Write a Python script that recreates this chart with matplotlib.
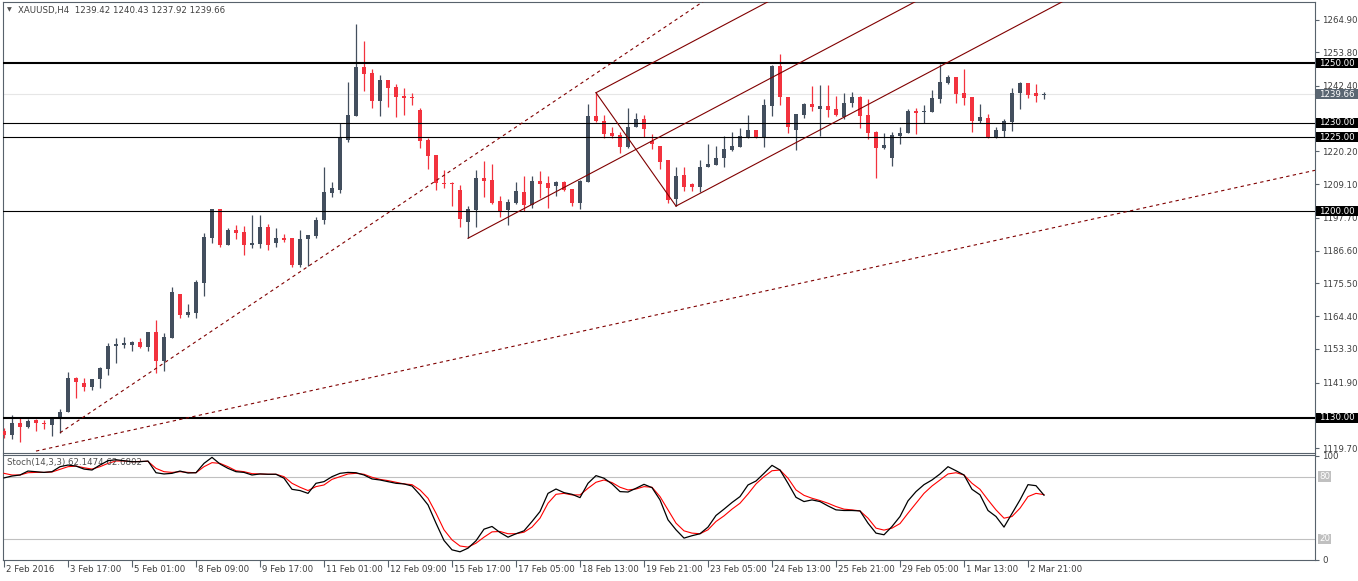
import matplotlib.pyplot as plt
from matplotlib.patches import Rectangle
from matplotlib.transforms import IdentityTransform

# XAUUSD H4 candles (open, high, low, close), one per bar
opens = [1125.6, 1124.2, 1128.3, 1127.0, 1129.2, 1128.3, 1127.5, 1129.7, 1132.0, 1143.3,
         1141.6, 1140.5, 1143.0, 1146.6, 1154.4, 1154.7, 1154.6, 1155.6, 1154.1, 1159.0,
         1149.3, 1157.1, 1171.9, 1164.9, 1165.6, 1175.7, 1191.0, 1200.7, 1188.5, 1193.6,
         1193.0, 1188.5, 1188.9, 1194.7, 1189.3, 1191.0, 1191.0, 1181.6, 1190.4, 1191.6,
         1197.0, 1206.2, 1207.1, 1224.1, 1232.2, 1248.7, 1246.7, 1237.4, 1244.4, 1241.9,
         1239.0, 1238.6, 1234.2, 1224.1, 1219.0, 1209.5, 1209.5, 1207.1, 1196.4, 1200.4,
         1211.3, 1210.5, 1203.4, 1200.4, 1202.6, 1206.6, 1202.1, 1210.2, 1209.5, 1208.5,
         1209.7, 1207.5, 1202.6, 1210.0, 1232.2, 1230.5, 1226.6, 1225.8, 1221.8, 1228.4,
         1231.1, 1223.7, 1222.0, 1217.3, 1204.2, 1212.1, 1209.1, 1208.3, 1214.8, 1215.6,
         1218.1, 1220.7, 1221.8, 1224.7, 1227.5, 1224.7, 1235.6, 1249.2, 1238.8, 1227.3,
         1232.6, 1236.3, 1234.7, 1235.6, 1234.5, 1232.0, 1236.5, 1238.8, 1232.6, 1226.9,
         1221.5, 1217.9, 1225.5, 1226.4, 1233.9, 1233.7, 1233.7, 1238.1, 1243.5, 1245.5,
         1239.9, 1238.7, 1230.5, 1231.4, 1225.2, 1227.2, 1230.3, 1239.9, 1243.3, 1240.0,
         1239.42]
highs = [1126.4, 1130.9, 1129.8, 1129.5, 1129.4, 1129.2, 1130.4, 1132.8, 1145.5, 1143.9,
         1143.3, 1143.0, 1147.1, 1155.4, 1156.9, 1157.3, 1156.0, 1156.9, 1159.0, 1163.0,
         1158.7, 1174.3, 1171.9, 1168.5, 1176.5, 1192.7, 1200.7, 1200.7, 1194.2, 1195.3,
         1194.9, 1198.7, 1198.7, 1195.6, 1194.2, 1192.2, 1191.0, 1193.6, 1191.9, 1197.9,
         1214.8, 1209.9, 1229.7, 1243.8, 1263.4, 1257.6, 1248.0, 1246.1, 1244.4, 1243.0,
         1241.6, 1240.1, 1234.8, 1224.6, 1219.0, 1213.9, 1209.7, 1208.8, 1201.7, 1213.9,
         1217.0, 1215.9, 1205.1, 1204.1, 1209.7, 1212.0, 1212.0, 1213.6, 1212.0, 1210.3,
         1210.2, 1207.5, 1210.5, 1236.3, 1240.1, 1232.5, 1228.4, 1226.9, 1234.8, 1233.3,
         1232.5, 1226.0, 1222.0, 1217.3, 1214.8, 1214.8, 1209.6, 1217.3, 1222.7, 1222.1,
         1225.4, 1226.9, 1228.0, 1232.5, 1227.5, 1237.9, 1249.5, 1253.2, 1238.8, 1232.9,
         1236.5, 1242.4, 1242.7, 1242.7, 1239.0, 1240.1, 1240.5, 1239.0, 1237.9, 1227.1,
         1226.3, 1226.9, 1228.6, 1234.5, 1234.8, 1236.0, 1241.0, 1249.8, 1246.1, 1245.5,
         1248.0, 1238.7, 1236.3, 1232.9, 1228.4, 1231.2, 1241.8, 1243.8, 1243.3, 1243.0,
         1240.43]
lows = [1123.2, 1122.9, 1121.9, 1126.6, 1125.6, 1126.3, 1123.8, 1124.9, 1132.0, 1136.8,
        1139.2, 1139.4, 1140.2, 1144.5, 1148.7, 1153.7, 1152.7, 1153.7, 1152.6, 1145.0,
        1145.9, 1157.1, 1163.9, 1164.2, 1163.9, 1171.2, 1189.3, 1187.9, 1188.5, 1190.5,
        1185.1, 1187.4, 1187.4, 1186.8, 1187.7, 1189.5, 1181.2, 1181.2, 1181.4, 1190.8,
        1195.6, 1204.9, 1206.2, 1223.5, 1232.2, 1240.7, 1234.8, 1232.2, 1235.4, 1232.0,
        1232.5, 1235.9, 1221.5, 1214.2, 1207.1, 1207.9, 1201.7, 1194.7, 1190.8, 1194.7,
        1204.9, 1202.4, 1198.1, 1195.3, 1202.3, 1200.0, 1201.2, 1204.3, 1201.2, 1205.1,
        1206.8, 1201.8, 1200.6, 1209.7, 1230.3, 1224.6, 1224.6, 1219.8, 1221.5, 1228.4,
        1225.2, 1220.9, 1214.2, 1202.6, 1201.7, 1206.9, 1206.9, 1206.6, 1214.8, 1215.6,
        1214.8, 1220.5, 1221.8, 1224.7, 1224.7, 1221.6, 1232.2, 1236.0, 1226.6, 1220.7,
        1231.4, 1234.0, 1225.4, 1232.0, 1232.2, 1231.1, 1235.4, 1228.3, 1224.3, 1211.1,
        1221.0, 1215.4, 1222.7, 1226.4, 1226.0, 1230.0, 1233.7, 1236.5, 1242.9, 1236.7,
        1235.9, 1226.9, 1229.7, 1224.7, 1224.7, 1225.2, 1227.2, 1234.6, 1238.4, 1237.1,
        1237.92]
closes = [1124.0, 1128.1, 1127.0, 1128.9, 1128.1, 1127.8, 1129.8, 1131.9, 1143.3, 1142.2,
          1140.5, 1143.0, 1146.7, 1154.3, 1155.0, 1155.3, 1155.6, 1154.1, 1159.0, 1149.3,
          1157.3, 1172.6, 1164.8, 1165.8, 1176.0, 1191.2, 1200.7, 1188.5, 1193.6, 1192.7,
          1188.5, 1189.3, 1194.7, 1188.5, 1191.0, 1190.2, 1181.6, 1190.5, 1191.9, 1197.0,
          1206.5, 1207.8, 1224.6, 1232.5, 1248.7, 1246.4, 1237.4, 1244.4, 1241.8, 1238.8,
          1238.4, 1238.4, 1223.9, 1218.8, 1209.4, 1209.3, 1209.2, 1197.3, 1200.7, 1211.3,
          1210.3, 1202.8, 1200.1, 1203.0, 1206.8, 1202.1, 1210.2, 1209.3, 1207.9, 1210.0,
          1207.1, 1202.6, 1210.2, 1232.2, 1230.6, 1226.1, 1225.4, 1221.8, 1228.6, 1231.1,
          1227.7, 1222.6, 1216.7, 1203.8, 1211.9, 1208.3, 1208.3, 1214.8, 1215.9, 1218.1,
          1221.0, 1222.1, 1225.4, 1227.5, 1224.7, 1235.9, 1249.2, 1238.8, 1228.4, 1232.9,
          1236.3, 1235.2, 1235.6, 1234.2, 1232.6, 1236.7, 1238.8, 1232.2, 1226.6, 1221.5,
          1222.4, 1225.8, 1226.6, 1233.9, 1233.3, 1233.9, 1238.4, 1243.8, 1245.5, 1239.6,
          1238.4, 1230.6, 1231.9, 1225.2, 1227.5, 1230.5, 1239.9, 1243.3, 1239.3, 1239.1,
          1239.66]

# Stochastic(14,3,3): main (%K) and signal (%D)
stoch_k = [78.8, 80.6, 81.6, 85.4, 84.8, 84.1, 84.8, 89.6, 91.2, 90.2,
           87.3, 86.4, 91.2, 95.4, 96.3, 95.4, 94.4, 94.4, 95.1, 83.8,
           82.6, 83.2, 85.4, 83.5, 83.8, 92.8, 98.6, 92.2, 88.0, 84.8,
           84.1, 81.6, 82.6, 82.3, 82.3, 78.5, 67.8, 66.6, 63.9, 73.6,
           75.2, 80.0, 83.2, 84.1, 83.8, 81.6, 77.8, 76.8, 75.2, 73.6,
           73.0, 71.0, 62.5, 52.8, 35.2, 18.5, 9.5, 7.6, 11.1, 18.2,
           29.4, 32.0, 26.2, 21.7, 25.0, 27.8, 36.8, 46.4, 63.9, 68.1,
           64.6, 63.0, 59.8, 73.6, 81.0, 78.5, 73.0, 65.6, 65.2, 68.8,
           72.6, 69.4, 57.6, 38.4, 28.8, 20.8, 23.1, 25.0, 31.4, 42.6,
           48.7, 55.1, 60.8, 72.0, 75.8, 83.2, 90.9, 86.4, 73.6, 60.1,
           56.0, 57.6, 56.0, 51.8, 48.0, 47.4, 47.4, 47.0, 35.2, 25.6,
           24.0, 32.0, 41.6, 56.7, 65.6, 72.3, 76.8, 82.6, 89.6, 85.7,
           81.6, 67.8, 62.5, 47.4, 41.6, 31.4, 44.4, 57.6, 72.3, 71.3,
           62.1474]
stoch_d = [83.2, 81.6, 81.6, 83.8, 84.1, 84.1, 84.5, 87.0, 89.6, 90.2,
           88.6, 87.3, 89.6, 92.8, 95.1, 95.1, 94.4, 94.7, 94.7, 88.0,
           84.8, 84.1, 84.8, 84.1, 83.8, 89.6, 93.5, 92.8, 89.6, 85.7,
           84.8, 82.9, 82.6, 82.3, 82.3, 80.0, 73.6, 69.8, 66.6, 70.4,
           72.0, 77.4, 80.0, 82.6, 83.2, 82.3, 79.4, 77.4, 76.2, 74.6,
           73.0, 72.3, 67.2, 59.2, 44.8, 28.8, 19.1, 13.2, 12.1, 15.9,
           21.7, 26.8, 27.2, 25.0, 25.0, 26.5, 31.4, 40.0, 54.4, 63.0,
           63.9, 62.4, 62.4, 68.8, 74.6, 76.8, 74.3, 69.8, 67.2, 68.1,
           70.4, 69.8, 60.8, 48.0, 35.2, 27.8, 25.6, 25.0, 28.8, 36.8,
           42.2, 48.7, 54.4, 63.3, 73.0, 80.0, 85.7, 86.4, 78.5, 67.2,
           62.0, 59.2, 57.0, 54.4, 51.2, 48.7, 48.0, 47.0, 40.0, 30.4,
           28.5, 30.4, 34.8, 44.8, 54.4, 63.9, 71.0, 76.8, 82.6, 83.8,
           81.6, 73.6, 67.8, 57.6, 48.0, 40.0, 41.6, 49.6, 60.8, 63.9,
           62.6802]

time_labels = ["2 Feb 2016", "3 Feb 17:00", "5 Feb 01:00", "8 Feb 09:00", "9 Feb 17:00",
               "11 Feb 01:00", "12 Feb 09:00", "15 Feb 17:00", "17 Feb 05:00",
               "18 Feb 13:00", "19 Feb 21:00", "23 Feb 05:00", "24 Feb 13:00",
               "25 Feb 21:00", "29 Feb 05:00", "1 Mar 13:00", "2 Mar 21:00"]
label_step = 8

# scale labels that are not hidden behind the level boxes
price_ticks = [1264.90, 1253.80, 1242.40, 1220.20, 1209.10, 1197.70,
               1186.60, 1175.50, 1164.40, 1153.30, 1141.90, 1119.70]

# horizontal levels: (price, thick?)
levels = [(1250.0, True), (1230.0, False), (1225.0, False), (1200.0, False), (1130.0, True)]
bid = 1239.66

# dotted trend lines, two anchor points each (bar, price)
trend_lines = [[(7, 1124.9), (42, 1188.5)],
               [(4, 1118.7), (141, 1200.2)]]
# Andrews' pitchfork anchors
fork_p1 = (58, 1190.8)
fork_p2 = (74, 1240.1)
fork_p3 = (84, 1201.7)

W, H = 1358, 581
BULL = "#434f5e"
BEAR = "#f2323e"
LINE = "#800000"
FRAME = "#58626c"
TXT = "#3d3d3d"
FS = 6.2

fig = plt.figure(figsize=(W / 100, H / 100), dpi=100)
ax = fig.add_axes([3 / W, 1 - 452.5 / H, 1312 / W, 450.5 / H])
ax2 = fig.add_axes([3 / W, 1 - 560 / H, 1312 / W, 105.5 / H])

n = len(opens)
xs = list(range(n))
x_lo, x_hi = -0.125, 163.875

# candles
for i in xs:
    o, h, l, c = opens[i], highs[i], lows[i], closes[i]
    col = BULL if c >= o else BEAR
    ax.vlines(i, l, h, color=col, lw=0.9, zorder=2)
    ax.bar(i, max(abs(c - o), 0.35), bottom=min(o, c), width=0.62,
           color=col, edgecolor="none", zorder=3)

ax.axhline(bid, color="#e6e6e6", lw=0.8, zorder=1)
for p, thick in levels:
    ax.axhline(p, color="black", lw=1.5 if thick else 0.8, zorder=4)

for (xa, ya), (xb, yb) in trend_lines:
    k = (yb - ya) / (xb - xa)
    ax.plot([xa, x_hi], [ya, ya + k * (x_hi - xa)], color=LINE, lw=0.8,
            ls=(0, (3, 3)), zorder=4)

mid = ((fork_p2[0] + fork_p3[0]) / 2, (fork_p2[1] + fork_p3[1]) / 2)
k = (mid[1] - fork_p1[1]) / (mid[0] - fork_p1[0])
for (xa, ya) in [fork_p1, fork_p2, fork_p3]:
    ax.plot([xa, x_hi], [ya, ya + k * (x_hi - xa)], color=LINE, lw=0.8, zorder=4)
ax.plot([fork_p2[0], fork_p3[0]], [fork_p2[1], fork_p3[1]], color=LINE, lw=0.8, zorder=4)

ax.set_xlim(x_lo, x_hi)
ax.set_ylim(1118.22, 1270.83)
ax.set_xticks([])
ax.yaxis.tick_right()
ax.set_yticks(price_ticks)
ax.set_yticklabels([f"{t:.2f}" for t in price_ticks])
ax.tick_params(axis="y", length=3, width=0.8, color=FRAME, labelsize=FS,
               labelcolor=TXT, pad=2)

# stochastic panel
ax2.plot(xs, stoch_d, color="#ff0000", lw=0.8, zorder=3)
ax2.plot(xs, stoch_k, color="black", lw=0.9, zorder=4)
for lv in (80, 20):
    ax2.axhline(lv, color="#c0c0c0", lw=0.8, zorder=1)
ax2.set_xlim(x_lo, x_hi)
ax2.set_ylim(-0.3, 101.35)
ax2.yaxis.tick_right()
ax2.set_yticks([100, 0])
ax2.set_yticklabels(["100", "0"])
ax2.tick_params(axis="y", length=3, width=0.8, color=FRAME, labelsize=FS,
                labelcolor=TXT, pad=2)
for lv in (80, 20):
    ax2.text(1.003, lv, str(lv), transform=ax2.get_yaxis_transform(), ha="left",
             va="center", fontsize=FS, color="white",
             bbox=dict(boxstyle="square,pad=0.1", fc="#c0c0c0", ec="none"))

tick_pos = [i * label_step for i in range(len(time_labels))]
ax2.set_xticks(tick_pos)
ax2.set_xticklabels([])
ax2.tick_params(axis="x", length=5, width=0.8, color=FRAME, direction="out")
for tp, lab in zip(tick_pos, time_labels):
    ax2.annotate(lab, (tp, 0), xycoords=ax2.get_xaxis_transform(),
                 xytext=(1.5, -10), textcoords="offset pixels",
                 ha="left", va="center", fontsize=FS, color=TXT)

ax2.text(4 / 1312, (560 - 463) / 105.5, "Stoch(14,3,3) 62.1474 62.6802",
         transform=ax2.transAxes, ha="left", va="center", fontsize=FS, color="#505050")

for a in (ax, ax2):
    for s in a.spines.values():
        s.set_color(FRAME)
        s.set_linewidth(0.8)

# price boxes on the right scale
boxes = [(p, "black") for p, _ in levels] + [(bid, "#5a6672")]
for p, fc in boxes:
    yd = ax.transData.transform((0, p))[1]
    fig.add_artist(Rectangle((1316, yd - 5), 42, 10, transform=IdentityTransform(),
                             fc=fc, ec="none", zorder=10))
    fig.text(1319 / W, yd / H, f"{p:.2f}", ha="left", va="center", fontsize=FS,
             color="white", zorder=11)

fig.text(7 / W, 1 - 10 / H, "\u25bc", ha="left", va="center", fontsize=4.5, color="#505050")
fig.text(18 / W, 1 - 10 / H, "XAUUSD,H4  1239.42 1240.43 1237.92 1239.66",
         ha="left", va="center", fontsize=FS, color="#404040")

fig.savefig("out.png", dpi=100, facecolor="white")
